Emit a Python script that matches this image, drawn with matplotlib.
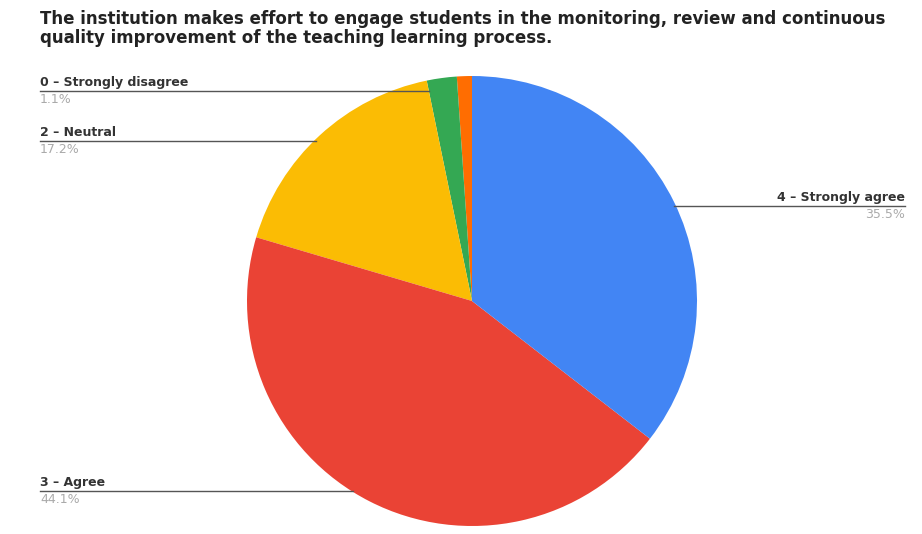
import numpy as np
import matplotlib
matplotlib.use("Agg")
import matplotlib.pyplot as plt

plt.rcParams['font.family'] = ['DejaVu Sans']

# Survey responses (n = 93)
categories = ["0 – Strongly disagree", "1 – Disagree", "2 – Neutral", "3 – Agree", "4 – Strongly agree"]
counts = [1, 2, 16, 41, 33]
percent_labels = ["1.1%", "2.2%", "17.2%", "44.1%", "35.5%"]
colors = ["#FF6D01", "#34A853", "#FBBC04", "#EA4335", "#4285F4"]

title = ("The institution makes effort to engage students in the monitoring, review and continuous\n"
         "quality improvement of the teaching learning process.")

W, H = 922, 534
CX, CY, R = 472, 301, 225  # pie centre and radius in pixels

fig = plt.figure(figsize=(W / 100, H / 100), dpi=100)
fig.patch.set_facecolor("white")

ax = fig.add_axes([(CX - R) / W, (H - CY - R) / H, 2 * R / W, 2 * R / H])
wedges, _ = ax.pie(counts, colors=colors, startangle=90, counterclock=True,
                   radius=1, wedgeprops=dict(linewidth=0))
ax.set_xlim(-1, 1)
ax.set_ylim(-1, 1)
ax.set_aspect("equal")
ax.axis("off")

fig.text(40 / W, 1 - 10 / H, title, fontsize=12, fontweight="bold", color="#222222",
         ha="left", va="top", linespacing=1.05)


def px_to_fig(x, y):
    return x / W, 1 - y / H


def edge_x(y_px, side):
    dy = (CY - y_px) / R
    return CX + side * R * np.sqrt(max(0.0, 1 - dy ** 2))


def ray_x(theta_deg, y_px):
    dy = (CY - y_px) / R
    t = dy / np.sin(np.radians(theta_deg))
    return CX + R * t * np.cos(np.radians(theta_deg))


# label index, line y (px), side (-1 left, 1 right)
placements = [(0, 91, -1), (2, 141, -1), (3, 491, -1), (4, 206, 1)]

for idx, y_line, side in placements:
    if idx == 0:
        # the line for the smallest slice runs across to the neighbouring wedge edge
        end = ray_x(wedges[1].theta2, y_line)
    else:
        end = edge_x(y_line, side) - side * 2
    if side < 0:
        x0, x1, tx, ha = 40, end, 40, "left"
    else:
        x0, x1, tx, ha = end, 905, 905, "right"
    fx0, fy = px_to_fig(x0, y_line)
    fx1, _ = px_to_fig(x1, y_line)
    fig.add_artist(plt.Line2D([fx0, fx1], [fy, fy], color="#555555", linewidth=1.0))
    lx, ly = px_to_fig(tx, y_line - 2)
    fig.text(lx, ly, categories[idx], fontsize=9, fontweight="bold", color="#333333",
             ha=ha, va="bottom")
    px_, py_ = px_to_fig(tx, y_line + 2)
    fig.text(px_, py_, percent_labels[idx], fontsize=9, color="#aaaaaa",
             ha=ha, va="top")

fig.savefig("out.png", dpi=100, facecolor="white")
